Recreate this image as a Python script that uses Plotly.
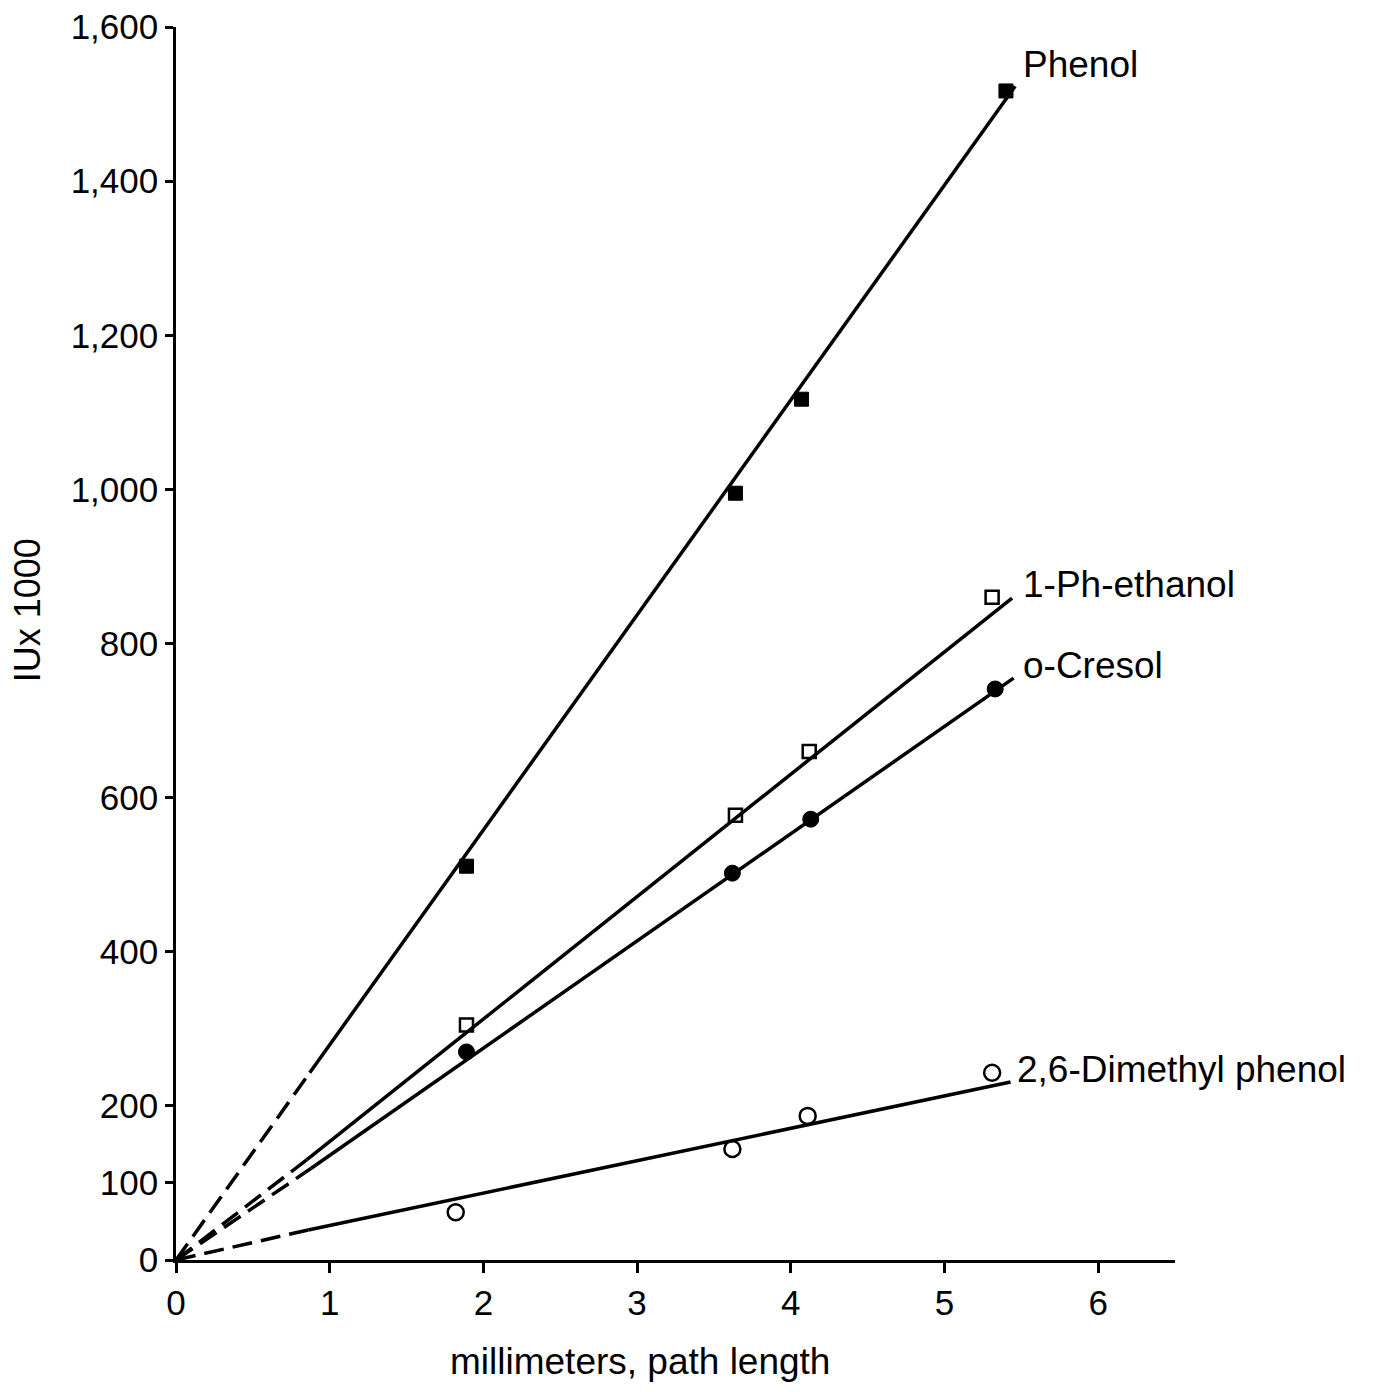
import plotly.graph_objects as go

# ---- data ----
series_names = ["Phenol", "1-Ph-ethanol", "o-Cresol", "2,6-Dimethyl phenol"]

phenol_x = [1.89, 3.64, 4.07, 5.40]
phenol_y = [511, 995, 1117, 1517]

phethanol_x = [1.89, 3.64, 4.12, 5.31]
phethanol_y = [305, 577, 660, 860]

cresol_x = [1.89, 3.62, 4.13, 5.33]
cresol_y = [270, 502, 572, 741]

dimethyl_x = [1.82, 3.62, 4.11, 5.31]
dimethyl_y = [62, 144, 187, 243]

# fitted lines: [origin, start of solid part, end of line]
phenol_fit_x = [0, 0.87, 5.46]
phenol_fit_y = [0, 243, 1523]
phethanol_fit_x = [0, 0.85, 5.44]
phethanol_fit_y = [0, 130, 859]
cresol_fit_x = [0, 0.88, 5.45]
cresol_fit_y = [0, 119, 755]
dimethyl_fit_x = [0, 0.86, 5.43]
dimethyl_fit_y = [0, 39, 231]

# label anchor positions (data units)
label_x = [5.50, 5.50, 5.50, 5.46]
label_y = [1551, 876, 772, 247]

x_ticks = [0, 1, 2, 3, 4, 5, 6]
y_ticks = [0, 100, 200, 400, 600, 800, 1000, 1200, 1400, 1600]
y_tick_labels = ["0", "100", "200", "400", "600", "800", "1,000", "1,200", "1,400", "1,600"]

FONT = "Liberation Sans, Arial, Helvetica, sans-serif"
INK = "#000000"

fig = go.Figure()

fits = [
    (phenol_fit_x, phenol_fit_y),
    (phethanol_fit_x, phethanol_fit_y),
    (cresol_fit_x, cresol_fit_y),
    (dimethyl_fit_x, dimethyl_fit_y),
]
for fx, fy in fits:
    fig.add_trace(go.Scatter(x=fx[:2], y=fy[:2], mode="lines",
                             line=dict(color=INK, width=3.5, dash="20px,9px"),
                             showlegend=False, hoverinfo="skip"))
    fig.add_trace(go.Scatter(x=fx[1:], y=fy[1:], mode="lines",
                             line=dict(color=INK, width=3.5),
                             showlegend=False, hoverinfo="skip"))

points = [
    (phenol_x, phenol_y, dict(symbol="square", size=14, color=INK,
                              line=dict(color=INK, width=1))),
    (phethanol_x, phethanol_y, dict(symbol="square-open", size=13, color=INK,
                                    line=dict(color=INK, width=2.5))),
    (cresol_x, cresol_y, dict(symbol="circle", size=16, color=INK,
                              line=dict(color=INK, width=1))),
    (dimethyl_x, dimethyl_y, dict(symbol="circle-open", size=16, color=INK,
                                  line=dict(color=INK, width=2.5))),
]
for (px, py, mk), name in zip(points, series_names):
    fig.add_trace(go.Scatter(x=px, y=py, mode="markers", marker=mk,
                             name=name, showlegend=False))

for name, lx, ly in zip(series_names, label_x, label_y):
    fig.add_annotation(x=lx, y=ly, xref="x", yref="y", text=name,
                       showarrow=False, xanchor="left", yanchor="middle",
                       font=dict(family=FONT, size=37, color=INK))

# axis titles
fig.add_annotation(x=0.4645, y=-0.1006, xref="paper", yref="paper",
                   text="millimeters, path length", showarrow=False,
                   xanchor="center", yanchor="bottom",
                   font=dict(family=FONT, size=37, color=INK))
fig.add_annotation(x=-0.1491, y=0.527, xref="paper", yref="paper",
                   text="IUx 1000", showarrow=False, textangle=-90,
                   xanchor="center", yanchor="middle",
                   font=dict(family=FONT, size=36, color=INK))

fig.update_layout(
    width=1361, height=1376,
    margin=dict(l=168, r=194, t=19, b=124),
    paper_bgcolor="white", plot_bgcolor="white",
    font=dict(family=FONT, color=INK),
    showlegend=False,
)
fig.update_xaxes(range=[0, 6.5], tickvals=x_ticks, ticks="outside", ticklen=10,
                 tickwidth=2.5, tickcolor=INK, showline=True, linecolor=INK,
                 linewidth=2.5, showgrid=False, zeroline=False,
                 ticklabeloverflow="allow", automargin=False,
                 tickfont=dict(family=FONT, size=35, color=INK))
fig.update_yaxes(range=[0, 1600], tickvals=y_ticks, ticktext=y_tick_labels,
                 ticks="outside", ticklen=8, tickwidth=2.5, tickcolor=INK,
                 showline=True, linecolor=INK, linewidth=2.5, showgrid=False,
                 zeroline=False, ticklabeloverflow="allow", automargin=False,
                 tickfont=dict(family=FONT, size=35, color=INK))

fig.write_html("out.html")
